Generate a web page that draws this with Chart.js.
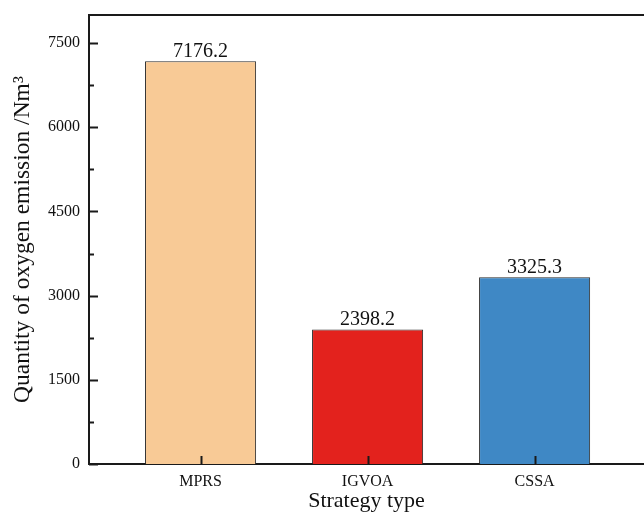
<!DOCTYPE html>
<html>
<head>
<meta charset="utf-8">
<script src="https://cdn.jsdelivr.net/npm/chart.js@4/dist/chart.umd.min.js"></script>
<style>
  html, body { margin: 0; padding: 0; background: #fff; overflow: hidden; }
  #wrap { width: 644px; height: 514px; position: relative; }
</style>
</head>
<body>
<div id="wrap"><canvas id="c" width="644" height="514"></canvas></div>
<script>
const categories = ['MPRS', 'IGVOA', 'CSSA'];
const values = [7176.2, 2398.2, 3325.3];
const valueLabels = ['7176.2', '2398.2', '3325.3'];
const yTicks = [0, 1500, 3000, 4500, 6000, 7500];
const yMinorTicks = [750, 2250, 3750, 5250, 6750];
const barColors = ['#F8CA96', '#E3221D', '#3F88C5'];

const FONT = '"Liberation Serif", "Times New Roman", serif';
const AXIS_COLOR = '#1a1a1a';

const framePlugin = {
  id: 'frame',
  afterDraw(chart) {
    const ctx = chart.ctx;
    const a = chart.chartArea;
    const xs = chart.scales.x, ys = chart.scales.y;
    ctx.save();
    ctx.strokeStyle = AXIS_COLOR;
    ctx.lineWidth = 2;
    // top border
    ctx.beginPath();
    ctx.moveTo(a.left - 1, a.top);
    ctx.lineTo(a.right + 2, a.top);
    ctx.stroke();
    // y ticks (inward)
    ctx.beginPath();
    yTicks.forEach(v => {
      const y = Math.round(ys.getPixelForValue(v)) + 0.5;
      ctx.moveTo(a.left, y); ctx.lineTo(a.left + 9, y);
    });
    yMinorTicks.forEach(v => {
      const y = Math.round(ys.getPixelForValue(v)) + 0.5;
      ctx.moveTo(a.left, y); ctx.lineTo(a.left + 5, y);
    });
    ctx.stroke();
    // x ticks (inward)
    ctx.beginPath();
    categories.forEach((c, i) => {
      const x = Math.round(xs.getPixelForValue(i + 1)) + 0.5;
      ctx.moveTo(x, a.bottom); ctx.lineTo(x, a.bottom - 8);
    });
    ctx.stroke();
    ctx.restore();
  },
  afterDatasetsDraw(chart) {
    const ctx = chart.ctx;
    const meta = chart.getDatasetMeta(0);
    ctx.save();
    ctx.fillStyle = '#111';
    ctx.font = '20px ' + FONT;
    ctx.textAlign = 'center';
    ctx.textBaseline = 'alphabetic';
    meta.data.forEach((bar, i) => {
      ctx.fillText(valueLabels[i], bar.x, bar.y - 4);
    });
    ctx.restore();
  }
};

new Chart(document.getElementById('c'), {
  type: 'bar',
  data: {
    datasets: [{
      data: values.map((v, i) => ({ x: i + 1, y: v })),
      backgroundColor: barColors,
      borderColor: '#2a2a2a',
      borderWidth: 1,
      barPercentage: 0.665,
      categoryPercentage: 1.0
    }]
  },
  options: {
    responsive: false,
    animation: false,
    devicePixelRatio: 1,
    layout: { padding: { top: 15, right: 0, left: 0, bottom: 0 } },
    plugins: { legend: { display: false }, tooltip: { enabled: false } },
    scales: {
      x: {
        type: 'linear',
        offset: false,
        min: 0.332,
        max: 3.655,
        afterBuildTicks(scale) { scale.ticks = categories.map((c, i) => ({ value: i + 1 })); },
        afterFit(scale) { scale.height = 50; scale.paddingLeft = 0; scale.paddingRight = 0; },
        grid: { display: false, drawTicks: false, offset: false },
        border: { display: true, color: AXIS_COLOR, width: 2 },
        ticks: {
          padding: 8,
          color: '#111',
          font: { family: FONT, size: 16 },
          callback: (v) => categories[Math.round(v) - 1]
        },
        title: {
          display: true,
          text: 'Strategy type',
          color: '#111',
          font: { family: FONT, size: 22 },
          padding: { top: 0, bottom: 0 }
        }
      },
      y: {
        min: 0,
        max: 8000,
        afterBuildTicks(scale) { scale.ticks = yTicks.map(v => ({ value: v })); },
        afterFit(scale) { scale.width = 89; scale.paddingTop = 0; scale.paddingBottom = 0; },
        grid: { display: false, drawTicks: false },
        border: { display: true, color: AXIS_COLOR, width: 2 },
        ticks: {
          padding: 9,
          color: '#111',
          font: { family: FONT, size: 16 },
          callback: (v) => String(v)
        },
        title: {
          display: true,
          text: 'Quantity of oxygen emission /Nm³',
          color: '#111',
          font: { family: FONT, size: 23.5 },
          padding: { top: 9, bottom: 0 }
        }
      }
    }
  },
  plugins: [framePlugin]
});
</script>
</body>
</html>
